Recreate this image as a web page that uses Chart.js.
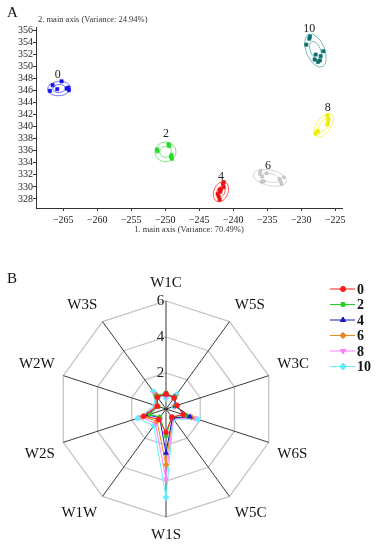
<!DOCTYPE html>
<html>
<head>
<meta charset="utf-8">
<script src="https://cdn.jsdelivr.net/npm/chart.js@4.4.0/dist/chart.umd.min.js"></script>
<style>
  body { margin: 0; background: #fff; width: 380px; height: 550px; overflow: hidden; position: relative; }
  #boxA { position: absolute; left: 0; top: 0; width: 380px; height: 245px; }
  #boxB { position: absolute; left: 0; top: 245px; width: 380px; height: 315px; }
</style>
</head>
<body>
<div id="boxA"><canvas id="chartA"></canvas></div>
<div id="boxB"><canvas id="chartB"></canvas></div>
<script>
'use strict';

// ---- panel A data (PCA scores) ----
var groups = ['0', '2', '4', '6', '8', '10'];
var s0 = [[-266.56, 346.85], [-266.96, 345.92], [-265.88, 346.2], [-265.24, 347.5], [-264.26, 346.46], [-264.16, 346.03], [-264.5, 346.3]];
var s2 = [[-251.14, 335.92], [-251.22, 336.2], [-249.51, 337.07], [-249.41, 336.79], [-249.07, 335.26], [-249.01, 334.66], [-249.16, 334.98]];
var s4 = [[-241.4, 330.79], [-241.49, 330.51], [-241.78, 329.64], [-241.99, 329.52], [-242.29, 328.85], [-242.14, 328.43], [-241.99, 327.89], [-241.4, 329.97], [-241.89, 329.2]];
var s6 = [[-235.99, 332.64], [-236.09, 332.15], [-235.74, 331.7], [-235.84, 330.89], [-235.5, 330.89], [-235.1, 332.26], [-233.19, 331.33], [-233.04, 330.89], [-232.55, 331.6], [-232.9, 330.5]];
var s8 = [[-226.15, 341.82], [-226.0, 341.28], [-226.06, 340.72], [-226.15, 340.34], [-227.63, 339.25], [-227.88, 338.82], [-227.54, 339.08]];
var s10 = [[-228.72, 354.93], [-228.81, 354.56], [-229.25, 353.57], [-226.74, 352.48], [-227.14, 351.66], [-227.88, 351.93], [-228.02, 351.11], [-227.54, 350.72], [-227.24, 350.95]];
// confidence ellipses: centre, half axes (data units), tilt
var ellCx = [-265.6, -249.95, -241.8, -234.6, -226.7, -227.9];
var ellCy = [346.3, 335.8, 329.2, 331.5, 340.2, 352.6];
var ellRx = [1.7, 1.55, 1.05, 2.5, 1.05, 1.35];
var ellRy = [1.2, 1.65, 1.75, 1.3, 2.3, 2.9];
var ellRot = [-5, 0, 22, 12, 35, -22];
var labX = [-265.8, -249.9, -241.8, -234.9, -226.1, -228.8];
var labY = [348.5, 338.8, 331.7, 333.5, 343.1, 356.2];
var xTickVals = [-265, -260, -255, -250, -245, -240, -235, -230, -225];
var yTickVals = [328, 330, 332, 334, 336, 338, 340, 342, 344, 346, 348, 350, 352, 354, 356];

// ---- panel B data (e-nose sensors) ----
var sensors = ['W1C', 'W5S', 'W3C', 'W6S', 'W5C', 'W1S', 'W1W', 'W2S', 'W2W', 'W3S'];
var d0 = [0.85, 0.75, 0.65, 1.0, 0.55, 1.3, 0.7, 1.3, 0.5, 0.8];
var d2 = [0.9, 0.8, 0.6, 1.1, 0.55, 1.5, 0.55, 0.95, 0.45, 0.9];
var d4 = [0.8, 0.8, 0.55, 1.4, 0.6, 2.45, 0.6, 1.05, 0.5, 0.85];
var d6 = [0.8, 0.85, 0.55, 1.5, 0.6, 3.1, 0.85, 1.35, 0.55, 0.95];
var d8 = [0.7, 0.9, 0.5, 1.65, 0.65, 3.9, 1.0, 1.45, 0.6, 1.05];
var d10 = [0.6, 1.0, 0.45, 1.85, 0.7, 4.9, 1.15, 1.65, 0.65, 1.2];
var rTicks = [0, 2, 4, 6];

var SERIF = '"Liberation Serif", "Times New Roman", serif';
var ptColors = ['#1010ee', '#22dd22', '#ee1111', '#a8a8a8', '#eeee00', '#0b6f6f'];
var ellColors = ['#5050ff', '#60e060', '#ff3535', '#cccccc', '#f2f23a', '#50a8a8'];
var minus = function (v) { return String(v).replace('-', '\u2212'); };

var pts = [s0, s2, s4, s6, s8, s10];

var ellipsePlugin = {
  id: 'ellipses',
  beforeDatasetsDraw: function (chart) {
    var ctx = chart.ctx, xs = chart.scales.x, ys = chart.scales.y;
    ctx.save();
    for (var i = 0; i < groups.length; i++) {
      var cx = xs.getPixelForValue(ellCx[i]), cy = ys.getPixelForValue(ellCy[i]);
      var rx = Math.abs(xs.getPixelForValue(ellCx[i] + ellRx[i]) - cx);
      var ry = Math.abs(ys.getPixelForValue(ellCy[i] + ellRy[i]) - cy);
      ctx.strokeStyle = ellColors[i];
      ctx.lineWidth = 0.8;
      [1, 0.55].forEach(function (k) {
        ctx.beginPath();
        ctx.ellipse(cx, cy, rx * k, ry * k, ellRot[i] * Math.PI / 180, 0, 2 * Math.PI);
        ctx.stroke();
      });
      ctx.fillStyle = '#222';
      ctx.font = '12px ' + SERIF;
      ctx.textAlign = 'center';
      ctx.textBaseline = 'middle';
      ctx.fillText(groups[i], xs.getPixelForValue(labX[i]), ys.getPixelForValue(labY[i]));
    }
    ctx.restore();
  },
  afterDraw: function (chart) {
    var ctx = chart.ctx;
    ctx.save();
    ctx.fillStyle = '#111';
    ctx.textBaseline = 'alphabetic';
    ctx.font = '15px ' + SERIF;
    ctx.fillText('A', 7, 17);
    ctx.font = '8.5px ' + SERIF;
    ctx.fillStyle = '#333';
    ctx.fillText('2. main axis (Variance: 24.94%)', 38, 22);
    ctx.restore();
  }
};

new Chart(document.getElementById('chartA'), {
  type: 'scatter',
  data: {
    datasets: groups.map(function (g, i) {
      return {
        label: g,
        data: pts[i].map(function (p) { return { x: p[0], y: p[1] }; }),
        pointStyle: 'rect',
        pointRadius: i === 3 ? 1.8 : 2.3,
        backgroundColor: i === 3 ? '#d8d8d8' : ptColors[i],
        borderColor: ptColors[i],
        borderWidth: 0.6
      };
    })
  },
  options: {
    responsive: true,
    maintainAspectRatio: false,
    animation: false,
    layout: { padding: { left: 0, right: 38, top: 27, bottom: 0 } },
    plugins: { legend: { display: false }, tooltip: { enabled: false } },
    scales: {
      x: {
        type: 'linear', min: -269, max: -224,
        afterBuildTicks: function (s) { s.ticks = xTickVals.map(function (v) { return { value: v }; }); },
        afterFit: function (s) { s.height = 37; },
        grid: { drawOnChartArea: false, drawTicks: true, tickLength: 3, color: '#333' },
        border: { color: '#333', width: 1 },
        ticks: { color: '#222', padding: 3, maxRotation: 0, autoSkip: false, font: { family: SERIF, size: 10 }, callback: minus },
        title: { display: true, text: '1. main axis (Variance: 70.49%)', color: '#333', font: { family: SERIF, size: 8.5 }, padding: { top: 0, bottom: 10 } }
      },
      y: {
        type: 'linear', min: 326.5, max: 356.5,
        afterBuildTicks: function (s) { s.ticks = yTickVals.map(function (v) { return { value: v }; }); },
        afterFit: function (s) { s.width = 36; },
        grid: { drawOnChartArea: false, drawTicks: true, tickLength: 3, color: '#333' },
        border: { color: '#333', width: 1 },
        ticks: { color: '#222', padding: 0, autoSkip: false, font: { family: SERIF, size: 10 } }
      }
    }
  },
  plugins: [ellipsePlugin]
});

// ---- panel B ----
var series = [d0, d2, d4, d6, d8, d10];
var lineColors = ['#ff1a1a', '#1ed21e', '#1a1acc', '#f08a1e', '#ff80ff', '#66eeff'];
var markers = ['circle', 'rect', 'triangle', 'rectRot', 'triangle', 'rectRot'];
var markerRot = [0, 0, 0, 0, 180, 0];
var markerSize = [2.5, 2.5, 3, 3, 3, 3.3];

var legendPlugin = {
  id: 'lineLegend',
  afterDraw: function (chart) {
    var ctx = chart.ctx;
    ctx.save();
    ctx.fillStyle = '#111';
    ctx.font = '15px ' + SERIF;
    ctx.textBaseline = 'alphabetic';
    ctx.fillText('B', 7, 38);
    chart.data.datasets.forEach(function (ds, i) {
      var y = 44 + i * 15.5;
      ctx.strokeStyle = ds.borderColor;
      ctx.lineWidth = 1;
      ctx.beginPath();
      ctx.moveTo(330, y);
      ctx.lineTo(355, y);
      ctx.stroke();
      if (Chart.helpers && Chart.helpers.drawPoint) {
        Chart.helpers.drawPoint(ctx, {
          pointStyle: ds.pointStyle, radius: ds.pointRadius, rotation: ds.pointRotation || 0, borderWidth: 1
        }, 343, y);
        ctx.fillStyle = ds.borderColor;
        ctx.fill();
      }
      ctx.fillStyle = '#111';
      ctx.font = 'bold 14px ' + SERIF;
      ctx.textBaseline = 'middle';
      ctx.fillText(ds.label, 357, y + 1);
    });
    ctx.restore();
  }
};

new Chart(document.getElementById('chartB'), {
  type: 'radar',
  data: {
    labels: sensors,
    datasets: series.map(function (d, i) {
      return {
        label: groups[i],
        data: d,
        fill: false,
        borderColor: lineColors[i],
        backgroundColor: lineColors[i],
        borderWidth: 1,
        pointStyle: markers[i],
        pointRotation: markerRot[i],
        pointRadius: markerSize[i],
        pointBorderWidth: 0.5
      };
    })
  },
  options: {
    responsive: true,
    maintainAspectRatio: false,
    animation: false,
    layout: { padding: { left: 7, right: 58, top: 29, bottom: 16 } },
    plugins: { legend: { display: false }, tooltip: { enabled: false } },
    scales: {
      r: {
        min: 0, max: 6,
        afterBuildTicks: function (s) { s.ticks = rTicks.map(function (v) { return { value: v }; }); },
        grid: { color: '#c4c4c4', lineWidth: 1.3 },
        angleLines: { color: '#3a3a3a', lineWidth: 1 },
        pointLabels: { color: '#111', font: { family: SERIF, size: 15 }, padding: 1.5 },
        ticks: {
          color: '#222', showLabelBackdrop: false, backdropPadding: 0, font: { family: SERIF, size: 15 },
          callback: function (v) { return v + '   '; }
        }
      }
    }
  },
  plugins: [legendPlugin]
});
</script>
</body>
</html>
